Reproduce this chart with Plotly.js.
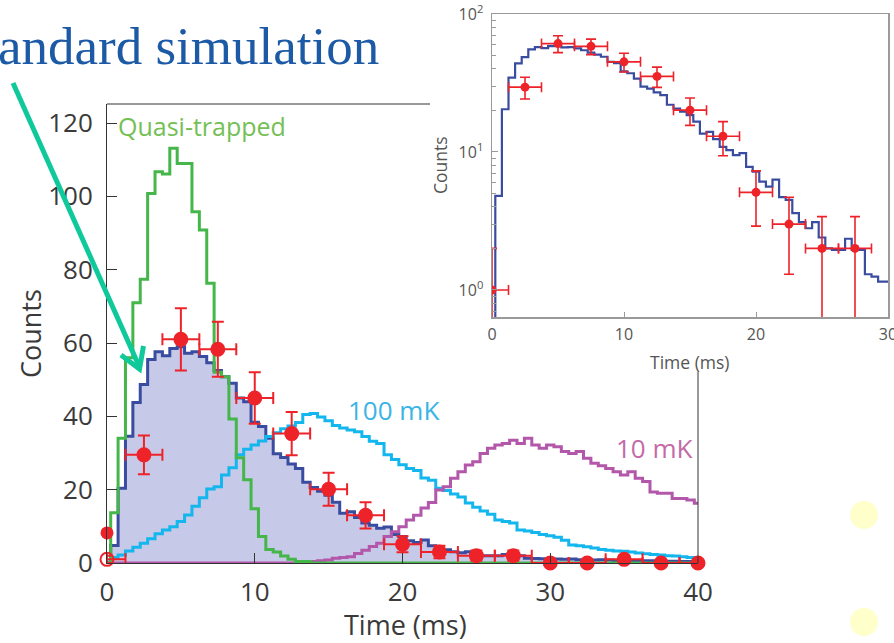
<!DOCTYPE html>
<html>
<head>
<meta charset="utf-8">
<script src="https://cdn.plot.ly/plotly-3.0.1.min.js"></script>
<style>
html,body{margin:0;padding:0;background:#fff;}
#chart{width:894px;height:643px;}
</style>
</head>
<body>
<div id="chart"></div>
<script>
// ---- data ----
const binWidthMs = 0.5;   // simulated histograms: 0.5 ms bins centred at 0, 0.5, 1.0 ... 40

const standardSim = [
  0, 4.8, 20.4, 34.6, 43.8, 48.7, 55.5, 57.6, 56.5, 58.5,
  59.0, 57.2, 57.6, 56.3, 54.6, 52.5, 50.8, 49.0, 45.0, 44.0,
  38.4, 37.2, 34.0, 29.8, 28.8, 27.0, 25.8, 22.0, 20.6, 19.6,
  18.5, 16.6, 13.6, 14.0, 12.4, 10.9, 10.3, 9.5, 9.8, 7.8,
  7.2, 6.1, 5.6, 6.3, 4.7, 4.5, 3.6, 3.1, 2.8, 3.1,
  2.4, 2.0, 1.95, 1.95, 2.35, 1.95, 1.95, 1.3, 1.25, 1.15,
  1.15, 1.1, 1.0, 1.1, 0.9, 0.9, 0.8, 0.9, 0.8, 0.7,
  0.7, 0.7, 0.6, 0.6, 0.6, 0.5, 0.5, 0.5, 0.4, 0.4,
  0.4
];

const sim100mK = [
  0.3, 1.5, 2.2, 3.3, 4.3, 5.4, 6.6, 8.0, 9.0, 9.9,
  11.3, 13.1, 15.5, 17.8, 20.2, 20.8, 24.0, 26.0, 29.5, 31.0,
  32.2, 33.3, 34.5, 35.5, 36.6, 37.4, 38.3, 40.5, 40.8, 39.8,
  38.8, 37.5, 36.8, 36.3, 35.8, 34.5, 33.2, 32.6, 29.5, 28.2,
  26.8, 25.8, 25.2, 23.2, 22.6, 20.4, 19.8, 18.8, 18.0, 16.4,
  15.2, 14.2, 13.3, 11.7, 11.3, 10.9, 9.0, 8.7, 8.3, 7.8,
  7.4, 7.0, 6.2, 4.9, 4.7, 4.4, 4.1, 3.7, 3.5, 3.3,
  3.2, 3.0, 2.7, 2.5, 2.3, 2.2, 2.0, 1.9, 1.7, 1.5,
  1.3
];

const sim10mK = [
  0, 0, 0, 0, 0, 0, 0, 0, 0, 0,
  0, 0, 0, 0, 0, 0, 0, 0, 0, 0,
  0, 0, 0, 0, 0, 0, 0, 0.2, 0.4, 0.6,
  0.8, 1.3, 1.5, 1.7, 2.6, 3.5, 4.5, 5.4, 7.2, 8.5,
  9.9, 11.7, 13.0, 15.0, 16.5, 19.9, 20.8, 23.1, 24.9, 26.7,
  27.6, 29.9, 31.3, 32.2, 32.6, 33.5, 32.6, 34.0, 32.2, 31.3,
  32.2, 31.7, 30.4, 29.9, 30.4, 28.6, 27.2, 26.5, 25.8, 24.9,
  24.0, 24.9, 23.1, 22.2, 19.4, 19.0, 19.0, 17.6, 17.6, 17.2,
  16.3
];

const quasiTrapped = [
  0, 13.7, 34.0, 56.0, 71.0, 77.4, 100.8, 106.7, 106.1, 113.1,
  109.0, 109.0, 95.8, 90.8, 76.3, 52.0, 50.8, 39.3, 28.7, 22.7,
  14.8, 7.2, 3.7, 3.0, 1.9, 1.0, 0.4, 0.4, 0, 0,
  0, 0, 0, 0, 0, 0, 0, 0, 0, 0,
  0, 0, 0, 0, 0, 0, 0, 0, 0, 0,
  0, 0, 0, 0, 0, 0, 0, 0, 0, 0,
  0, 0, 0, 0, 0, 0, 0, 0, 0, 0,
  0, 0, 0, 0, 0, 0, 0, 0, 0, 0,
  0
];

// measured counts (2.5 ms bins)
const dataTimes  = [0, 2.5, 5, 7.5, 10, 12.5, 15, 17.5, 20, 22.5, 25, 27.5, 30, 32.5, 35, 37.5, 40];
const dataCounts = [1, 29.5, 61, 58.3, 45, 35.3, 20.1, 13, 5.1, 3, 2, 2, 0, 0, 1, 0, 0];
const dataErr    = [1, 5.3, 8.5, 7.5, 7, 5.9, 4.5, 3.6, 2.2, 1.7, 1.4, 1.4, 0, 0, 1, 0, 0];
const timeErrPlus  = [1.25, 1.25, 1.25, 1.25, 1.25, 1.25, 1.25, 1.25, 1.25, 1.25, 1.25, 1.25, 1.25, 1.25, 1.25, 1.25, 0];
const timeErrMinus = [0, 1.25, 1.25, 1.25, 1.25, 1.25, 1.25, 1.25, 1.25, 1.25, 1.25, 1.25, 1.25, 1.25, 1.25, 1.25, 1.25];
const timeErrInset = [1.25, 1.25, 1.25, 1.25, 1.25, 1.25, 1.25, 1.25, 1.25, 1.25, 1.25, 1.25, 1.25, 1.25, 1.25, 1.25, 1.25];
const extraTime = [0];
const extraCount = [8.2];

const mainYTicks = [0, 20, 40, 60, 80, 100, 120];
const mainXTicks = [0, 10, 20, 30, 40];
const insetXTicks = [0, 10, 20, 30];
const insetYTicks = [1, 10, 100];
const insetYTickText = ['10<sup>0</sup>', '10<sup>1</sup>', '10<sup>2</sup>'];
const insetYMinor = [0.7, 0.8, 0.9, 2, 3, 4, 5, 6, 7, 8, 9, 20, 30, 40, 50, 60, 70, 80, 90];

// ---- helpers ----
const W = 894, H = 643;
const px = p => p / W;
const py = p => 1 - p / H;
const binCenters = standardSim.map((_, i) => i * binWidthMs);

const C = {
  blue: '#3a4c9f', fill: '#c6c9e7', cyan: '#14b6ee', magenta: '#b257a9',
  green: '#45b649', red: '#ee232a', text: '#3a3a3a'
};
const FONT = 'Open Sans, Noto Sans, sans-serif';

function stepTrace(y, color, extra) {
  return Object.assign({
    type: 'scatter', mode: 'lines', x: binCenters, y: y,
    line: {shape: 'hvh', color: color, width: 3},
    xaxis: 'x', yaxis: 'y', hoverinfo: 'skip'
  }, extra || {});
}

const mainSymbols = dataTimes.map((_, i) => i === 0 ? 'circle-open' : 'circle');

const traces = [
  stepTrace(standardSim, C.blue, {fill: 'tozeroy', fillcolor: C.fill}),
  stepTrace(sim100mK, C.cyan),
  stepTrace(sim10mK, C.magenta),
  stepTrace(quasiTrapped, C.green),
  {
    type: 'scatter', mode: 'markers', x: dataTimes, y: dataCounts,
    xaxis: 'x', yaxis: 'y', cliponaxis: false,
    marker: {color: C.red, size: 13, symbol: mainSymbols, line: {color: C.red, width: 2}},
    error_y: {type: 'data', array: dataErr, visible: true, color: C.red, thickness: 2, width: 6},
    error_x: {type: 'data', symmetric: false, array: timeErrPlus, arrayminus: timeErrMinus,
              visible: true, color: C.red, thickness: 2, width: 6}
  },
  {
    type: 'scatter', mode: 'markers', x: extraTime, y: extraCount,
    xaxis: 'x', yaxis: 'y', cliponaxis: false,
    marker: {color: C.red, size: 13}
  },
  // inset (log scale)
  {
    type: 'scatter', mode: 'lines', x: binCenters,
    y: standardSim.map(v => v > 0 ? v : 1e-3),
    line: {shape: 'hvh', color: C.blue, width: 2.2},
    xaxis: 'x2', yaxis: 'y2'
  },
  {
    type: 'scatter', mode: 'markers', x: dataTimes, y: dataCounts,
    xaxis: 'x2', yaxis: 'y2',
    marker: {color: C.red, size: 9},
    error_y: {type: 'data', array: dataErr, visible: true, color: C.red, thickness: 1.6, width: 5},
    error_x: {type: 'data', array: timeErrInset, visible: true, color: C.red, thickness: 1.6, width: 5}
  }
];

const ann = (text, x, y, size, color, opts) => Object.assign({
  text: text, x: px(x), y: py(y), xref: 'paper', yref: 'paper',
  showarrow: false, xanchor: 'center', yanchor: 'middle',
  font: {family: FONT, size: size, color: color}
}, opts || {});

const layout = {
  width: W, height: H,
  margin: {l: 0, r: 0, t: 0, b: 0},
  paper_bgcolor: '#ffffff', plot_bgcolor: 'rgba(0,0,0,0)',
  showlegend: false,
  xaxis: {
    domain: [px(107), px(698)], range: [0, 40], anchor: 'y',
    tickmode: 'array', tickvals: mainXTicks,
    showline: true, linecolor: '#333', linewidth: 1,
    ticks: 'inside', ticklen: 10, tickcolor: '#333', tickwidth: 1,
    showgrid: false, zeroline: false, ticklabelstandoff: 6,
    tickfont: {family: FONT, size: 26, color: C.text}
  },
  yaxis: {
    domain: [py(563), py(104)], range: [0, 125.2], anchor: 'x',
    tickmode: 'array', tickvals: mainYTicks,
    showline: true, linecolor: '#333', linewidth: 1,
    ticks: 'inside', ticklen: 10, tickcolor: '#333', tickwidth: 1,
    showgrid: false, zeroline: false, ticklabelstandoff: 8,
    tickfont: {family: FONT, size: 26, color: C.text}
  },
  xaxis2: {
    domain: [px(492), px(888)], range: [0, 30], anchor: 'y2',
    tickmode: 'array', tickvals: insetXTicks,
    showline: true, mirror: true, linecolor: '#9a9a9a', linewidth: 1.5,
    ticks: 'inside', ticklen: 5, tickcolor: '#9a9a9a',
    showgrid: false, zeroline: false, ticklabelstandoff: 2,
    ticklabeloverflow: 'allow',
    tickfont: {family: FONT, size: 16, color: '#555'}
  },
  yaxis2: {
    type: 'log', domain: [py(317), py(14)], range: [-0.196, 2], anchor: 'x2',
    tickmode: 'array', tickvals: insetYTicks, ticktext: insetYTickText,
    showline: true, mirror: true, linecolor: '#9a9a9a', linewidth: 1.5,
    ticks: 'inside', ticklen: 6, tickcolor: '#9a9a9a',
    minor: {tickmode: 'array', tickvals: insetYMinor, ticks: 'inside', ticklen: 3.5, tickcolor: '#9a9a9a', showgrid: false},
    showgrid: false, zeroline: false, ticklabelstandoff: 4,
    tickfont: {family: FONT, size: 16, color: '#555'}
  },
  shapes: [
    {type: 'line', xref: 'paper', yref: 'paper', x0: px(107), x1: px(430), y0: py(104), y1: py(104), line: {color: '#333', width: 1}},
    {type: 'line', xref: 'paper', yref: 'paper', x0: px(698), x1: px(698), y0: py(372), y1: py(563), line: {color: '#333', width: 1}},
    {type: 'line', xref: 'paper', yref: 'paper', x0: px(13), y0: py(83), x1: px(139), y1: py(366), line: {color: '#10c99a', width: 5}, layer: 'above'},
    {type: 'path', xref: 'paper', yref: 'paper',
     path: 'M' + px(121) + ',' + py(355) + ' L' + px(139.5) + ',' + py(369) + ' L' + px(143.5) + ',' + py(346),
     line: {color: '#10c99a', width: 5}, layer: 'above'},
    {type: 'circle', xref: 'paper', yref: 'paper', x0: px(850), x1: px(878), y0: py(501), y1: py(529), fillcolor: '#ffffcc', line: {width: 0}},
    {type: 'circle', xref: 'paper', yref: 'paper', x0: px(850), x1: px(878), y0: py(608), y1: py(636), fillcolor: '#ffffcc', line: {width: 0}}
  ],
  annotations: [
    ann('andard simulation', 381, 46, 53, '#1d5aa6', {xanchor: 'right', font: {family: 'Liberation Serif, Times New Roman, serif', size: 53, color: '#1d5aa6'}}),
    ann('Quasi-trapped', 116, 126, 25, '#74c054', {xanchor: 'left'}),
    ann('100 mK', 346, 410, 26, '#3ab4e6', {xanchor: 'left'}),
    ann('10 mK', 614, 448, 26, '#c46aa8', {xanchor: 'left'}),
    ann('Counts', 30, 334, 27, C.text, {textangle: -90}),
    ann('Time (ms)', 405, 624, 27, C.text),
    ann('Counts', 440, 165, 17.5, '#555', {textangle: -90}),
    ann('Time (ms)', 690, 362, 17.5, '#555')
  ]
};

Plotly.newPlot('chart', traces, layout, {staticPlot: true});
</script>
</body>
</html>
